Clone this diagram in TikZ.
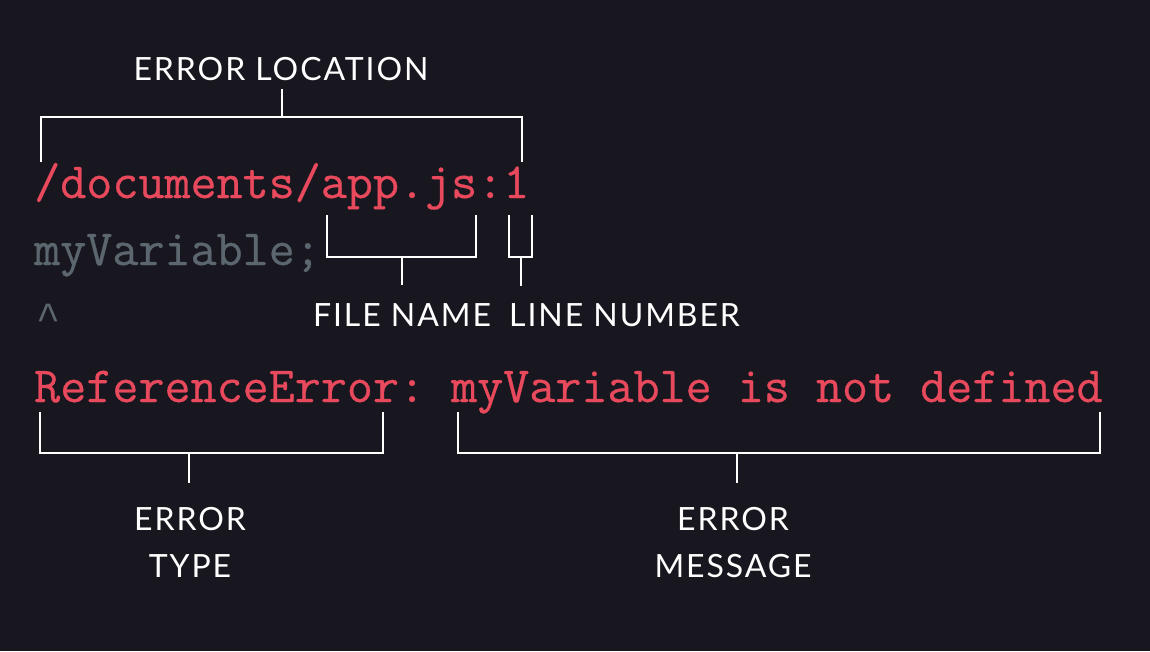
\documentclass[tikz,border=0pt]{standalone}
\usepackage{fontspec}
\setmainfont{Lato}[LetterSpace=6]
\setmonofont{Latin Modern Mono}[FakeBold=0.6]
\newfontfamily\caretfont{Liberation Mono}
\usetikzlibrary{positioning}
\definecolor{termbg}{HTML}{18171F}
\definecolor{termred}{HTML}{E8495C}
\definecolor{termgray}{HTML}{5B666E}

\begin{document}
\begin{tikzpicture}[x=1pt, y=-1pt,
    code/.style={anchor=base west, inner sep=0pt, font=\ttfamily\fontsize{50.6}{54}\selectfont},
    tag/.style={anchor=north, align=center, inner sep=0pt, text=white, font=\fontsize{32}{47}\selectfont},
    brace/.style={draw=white, line width=2pt}]
      \fill[termbg] (0,0) rectangle (1150,651);

      % code lines
      \node (path) [code, text=termred] at (34,198) {/documents/app.js:1};
      \node (stmt) [code, text=termgray] at (34,265) {myVariable;};
      \node (caret) [code, text=termgray, font=\caretfont\fontsize{40}{44}\selectfont] at (36,330) {\textasciicircum};
      \node (errline) [code, text=termred] at (34,402) {ReferenceError: myVariable is not defined};

      % labels
      \node (loc) [tag] at (281,57) {ERROR LOCATION};
      \node (fname) [tag] at (402,303) {FILE NAME};
      \node (lnum) [tag, anchor=north west] at (509,303) {LINE NUMBER};
      \node (etype) [tag] at (190,507) {ERROR\\TYPE};
      \node (emsg) [tag] at (733,507) {ERROR\\MESSAGE};

      % brackets
      \draw[brace] (41,162) |- (522,117) -- (522,162);
      \draw[brace] (282,117) -- (282,89);
      \draw[brace] (327,215) |- (476,257) -- (476,215);
      \draw[brace] (402,257) -- (402,285);
      \draw[brace] (509,215) |- (532,257) -- (532,215);
      \draw[brace] (521,257) -- (521,286);
      \draw[brace] (40,412) |- (383,453) -- (383,412);
      \draw[brace] (189,453) -- (189,483);
      \draw[brace] (458,412) |- (1100,453) -- (1100,412);
      \draw[brace] (737,453) -- (737,483);
    \end{tikzpicture}
\end{document}
